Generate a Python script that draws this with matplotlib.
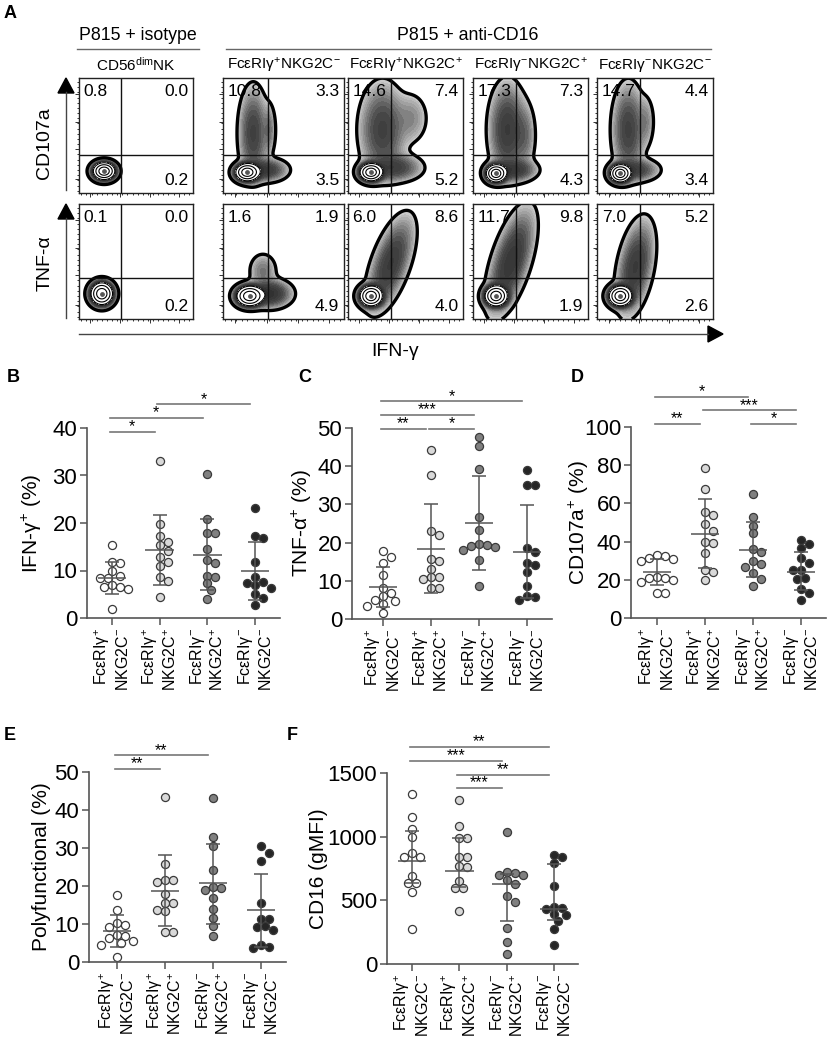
import numpy as np
import matplotlib.pyplot as plt
from matplotlib.colors import LinearSegmentedColormap
from matplotlib.patches import Polygon
from matplotlib import transforms

plt.rcParams['font.family'] = ['Liberation Sans', 'DejaVu Sans']
plt.rcParams['mathtext.fontset'] = 'custom'
plt.rcParams['mathtext.rm'] = 'Liberation Sans'
plt.rcParams['mathtext.it'] = 'Liberation Sans:italic'
plt.rcParams['mathtext.bf'] = 'Liberation Sans:bold'
plt.rcParams['contour.negative_linestyle'] = 'solid'

W, H = 829, 1039

# ---- panel A: flow plots ----
flow_titles = ['CD56$^{\\mathrm{dim}}$NK', 'FcεRIγ$^{+}$NKG2C$^{-}$', 'FcεRIγ$^{+}$NKG2C$^{+}$',
               'FcεRIγ$^{-}$NKG2C$^{+}$', 'FcεRIγ$^{-}$NKG2C$^{-}$']
# quadrant percentages: upper-left, upper-right, lower-right
cd107a_quads = [(0.8, 0.0, 0.2), (10.8, 3.3, 3.5), (14.6, 7.4, 5.2), (17.3, 7.3, 4.3), (14.7, 4.4, 3.4)]
tnf_quads = [(0.1, 0.0, 0.2), (1.6, 1.9, 4.9), (6.0, 8.6, 4.0), (11.7, 9.8, 1.9), (7.0, 5.2, 2.6)]

# population shapes (cx, cy, sx, sy, weight, rho) used to shade the density plots
cd107a_pops = [
    [(0.22, 0.19, 0.045, 0.035, 1, 0)],
    [(0.2, 0.18, 0.045, 0.035, 1, 0), (0.25, 0.52, 0.06, 0.2, 0.05, 0), (0.38, 0.55, 0.03, 0.12, 0.02, 0),
     (0.35, 0.2, 0.09, 0.05, 0.06, 0)],
    [(0.2, 0.18, 0.045, 0.035, 1, 0), (0.3, 0.55, 0.1, 0.2, 0.05, 0), (0.55, 0.65, 0.08, 0.12, 0.015, 0),
     (0.4, 0.22, 0.12, 0.06, 0.05, 0)],
    [(0.2, 0.17, 0.04, 0.035, 1, 0), (0.3, 0.55, 0.08, 0.2, 0.06, 0), (0.35, 0.2, 0.1, 0.05, 0.06, 0),
     (0.45, 0.5, 0.05, 0.15, 0.02, 0)],
    [(0.2, 0.17, 0.04, 0.035, 1, 0), (0.27, 0.55, 0.07, 0.2, 0.05, 0), (0.33, 0.2, 0.1, 0.05, 0.05, 0),
     (0.42, 0.62, 0.04, 0.12, 0.015, 0)],
]
tnf_pops = [
    [(0.2, 0.22, 0.045, 0.045, 1, 0)],
    [(0.22, 0.2, 0.05, 0.04, 1, 0), (0.38, 0.22, 0.09, 0.06, 0.08, 0), (0.33, 0.42, 0.06, 0.08, 0.02, 0)],
    [(0.2, 0.2, 0.045, 0.04, 1, 0), (0.37, 0.48, 0.1, 0.2, 0.06, 0.6)],
    [(0.2, 0.2, 0.045, 0.04, 1, 0), (0.33, 0.5, 0.1, 0.22, 0.07, 0.6)],
    [(0.2, 0.2, 0.045, 0.04, 1, 0), (0.33, 0.45, 0.08, 0.2, 0.06, 0.4)],
]

# ---- panels B-F ----
group_labels = ['FcεRIγ$^{+}$\nNKG2C$^{-}$', 'FcεRIγ$^{+}$\nNKG2C$^{+}$',
                'FcεRIγ$^{-}$\nNKG2C$^{+}$', 'FcεRIγ$^{-}$\nNKG2C$^{-}$']
group_colors = ['white', '#d9d9d9', '#808080', '#262626']

ifng = [[15.4, 11.7, 11.6, 10.0, 8.8, 8.5, 8.4, 7.0, 6.6, 6.5, 6.1, 2.0],
        [33.1, 19.7, 17.2, 16.1, 15.4, 14.2, 12.9, 11.7, 11.0, 8.7, 7.7, 4.4],
        [30.3, 20.8, 17.8, 17.8, 14.5, 12.2, 11.5, 8.7, 8.9, 7.3, 5.9, 4.0],
        [23.1, 17.3, 16.8, 11.7, 8.7, 7.5, 7.4, 7.0, 6.3, 5.1, 4.2, 2.8]]
ifng_mean = [8.4, 14.3, 13.3, 9.8]
ifng_low = [5.0, 7.0, 5.8, 3.7]
ifng_high = [11.8, 21.7, 20.8, 16.0]

tnf = [[17.8, 16.3, 14.7, 11.5, 8.2, 6.7, 6.0, 5.0, 4.8, 3.8, 3.5, 1.5],
       [44.3, 37.8, 23.1, 22.1, 15.1, 15.6, 13.0, 11.0, 10.6, 11.0, 8.0, 8.0],
       [47.6, 45.4, 39.3, 26.7, 23.4, 19.6, 19.3, 19.0, 18.8, 18.0, 15.4, 8.6],
       [39.1, 35.0, 35.0, 18.5, 17.6, 14.7, 12.3, 14.1, 8.6, 6.0, 5.1, 5.7]]
tnf_mean = [8.4, 18.4, 25.1, 17.6]
tnf_low = [3.2, 6.7, 12.8, 5.4]
tnf_high = [13.7, 30.0, 37.4, 29.8]

cd107a = [[33.0, 32.2, 31.5, 31.0, 29.6, 21.5, 20.9, 20.9, 19.7, 19.0, 13.0, 13.0],
          [78.3, 67.5, 55.7, 53.9, 49.0, 45.7, 40.0, 39.1, 33.9, 25.2, 24.3, 19.7],
          [64.7, 53.0, 48.3, 44.3, 36.0, 34.8, 29.6, 28.3, 26.5, 23.5, 20.3, 16.9],
          [40.9, 38.8, 36.5, 31.3, 28.7, 24.9, 24.9, 21.0, 20.3, 15.0, 13.0, 9.6]]
cd107a_mean = [24.3, 44.2, 35.7, 24.3]
cd107a_low = [17.5, 26.4, 21.4, 14.8]
cd107a_high = [31.0, 62.1, 50.1, 34.3]

poly = [[17.7, 13.6, 10.3, 9.8, 9.3, 7.0, 6.8, 6.3, 5.6, 5.0, 4.6, 1.3],
        [43.4, 25.9, 21.5, 21.1, 21.5, 18.0, 15.4, 15.4, 13.8, 13.3, 8.0, 8.0],
        [43.2, 32.9, 30.4, 24.1, 19.5, 19.7, 18.9, 16.8, 14.0, 11.6, 9.6, 6.8],
        [30.4, 28.7, 26.5, 15.4, 11.3, 11.3, 9.2, 9.4, 8.3, 4.6, 3.7, 3.9]]
poly_mean = [8.2, 18.8, 20.8, 13.6]
poly_low = [3.9, 9.4, 10.1, 4.0]
poly_high = [12.5, 28.2, 31.1, 23.2]

cd16 = [[1338, 1156, 1064, 999, 874, 843, 843, 691, 639, 639, 563, 276],
        [1286, 1083, 986, 986, 843, 843, 772, 764, 652, 595, 595, 420],
        [1038, 725, 712, 699, 699, 660, 629, 537, 490, 282, 172, 81],
        [856, 843, 790, 616, 451, 438, 433, 391, 386, 334, 274, 151]]
cd16_mid = [811, 730, 629, 430]
cd16_low = [634, 608, 334, 347]
cd16_high = [1046, 986, 707, 785]

# significance: (group i, group j, stars, stacking level)
ifng_sig = [(0, 1, '*', 0), (0, 2, '*', 1), (1, 3, '*', 2)]
tnf_sig = [(0, 1, '**', 0), (1, 2, '*', 0), (0, 2, '***', 1), (0, 3, '*', 2)]
cd107a_sig = [(0, 1, '**', 0), (2, 3, '*', 0), (1, 3, '***', 1), (0, 2, '*', 2)]
poly_sig = [(0, 1, '**', 0), (0, 2, '**', 1)]
cd16_sig = [(1, 2, '***', 0), (1, 3, '**', 1), (0, 2, '***', 2), (0, 3, '**', 3)]


def px_rect(x0, y0, x1, y1):
    return [x0 / W, 1 - y1 / H, (x1 - x0) / W, (y1 - y0) / H]


fig = plt.figure(figsize=(W / 100, H / 100), dpi=100)
flow_cmap = LinearSegmentedColormap.from_list('flow', ['#dcdcdc', '#9a9a9a', '#4a4a4a', '#262626'])
flow_x = [(79, 193), (223, 344), (348, 463), (473, 588), (597, 713)]
flow_rows = [(78, 193, cd107a_pops, cd107a_quads, 0.33), (204, 319, tnf_pops, tnf_quads, 0.36)]

g = np.linspace(0, 1, 300)
X, Y = np.meshgrid(g, g)
for top, bot, pops_row, quads_row, hy in flow_rows:
    for k, (xl, xr) in enumerate(flow_x):
        ax = fig.add_axes(px_rect(xl, top, xr, bot))
        Z = np.zeros_like(X)
        for cx, cy, sx, sy, w, rho in pops_row[k]:
            dx = (X - cx) / sx
            dy = (Y - cy) / sy
            Z += w * np.exp(-0.5 * (dx * dx - 2 * rho * dx * dy + dy * dy) / (1 - rho * rho))
        L = np.log10(Z / Z.max() + 1e-12)
        ax.contourf(X, Y, L, levels=np.linspace(-2.4, -0.95, 16), cmap=flow_cmap)
        ax.contourf(X, Y, L, levels=[-0.95, 0.01], colors='white')
        ax.contour(X, Y, L, levels=[-0.95, -0.55, -0.22], colors='k', linewidths=0.8)
        ax.scatter([p[0] for p in pops_row[k][:1]], [p[1] for p in pops_row[k][:1]],
                   s=6, color='#555', zorder=3)
        ax.contour(X, Y, L, levels=[-2.4], colors='k', linewidths=2.4)
        ax.axvline(0.37, color='#111', lw=1)
        ax.axhline(hy, color='#111', lw=1)
        ax.set_xlim(0, 1)
        ax.set_ylim(0, 1)
        ul, ur, lr = quads_row[k]
        ax.text(0.04, 0.95, f'{ul:.1f}', transform=ax.transAxes, ha='left', va='top', fontsize=12.5)
        ax.text(0.96, 0.95, f'{ur:.1f}', transform=ax.transAxes, ha='right', va='top', fontsize=12.5)
        ax.text(0.96, 0.04, f'{lr:.1f}', transform=ax.transAxes, ha='right', va='bottom', fontsize=12.5)
        ax.set_xticks([0.1, 0.36, 0.62, 0.88])
        ax.set_yticks([0.12, 0.38, 0.62, 0.86])
        ax.set_xticks(np.arange(0.02, 1, 0.045), minor=True)
        ax.set_yticks(np.arange(0.02, 1, 0.045), minor=True)
        ax.tick_params(which='both', direction='out', labelbottom=False, labelleft=False, width=0.7, color='#333')
        ax.tick_params(which='major', length=3)
        ax.tick_params(which='minor', length=1.3)
        for s in ax.spines.values():
            s.set_linewidth(1)
            s.set_color('#222')


def swarm_offsets(vals, ppu, diam):
    order = np.argsort(vals)[::-1]
    placed = []
    offs = np.zeros(len(vals))
    for i in order:
        y = vals[i] * ppu
        step = 0
        while True:
            cands = [0.0] if step == 0 else [step * diam * 0.5, -step * diam * 0.5]
            ok = None
            for c in cands:
                if all((c - px) ** 2 + (y - py) ** 2 >= (diam * 0.95) ** 2 for px, py in placed):
                    ok = c
                    break
            if ok is not None:
                offs[i] = ok
                placed.append((ok, y))
                break
            step += 1
    return offs


def dot_panel(box, cats, ylim, yticks, ylabel, ylab_x, data, mid, low, high, sig, sig_base):
    x0, y0, x1, y1 = box
    c0, c3 = cats
    sp = (c3 - c0) / 3
    ax = fig.add_axes(px_rect(x0, y0, x1, y1))
    ax.set_xlim(-(c0 - x0) / sp, 3 + (x1 - c3) / sp)
    ax.set_ylim(*ylim)
    ppu = (y1 - y0) / (ylim[1] - ylim[0])
    for k, vals in enumerate(data):
        vals = np.array(vals, dtype=float)
        offs = swarm_offsets(vals, ppu, 8.0) / sp
        ax.scatter(k + offs, vals, s=34, facecolor=group_colors[k], edgecolor='#3a3a3a',
                   linewidth=0.9, zorder=2, clip_on=False)
        ax.hlines(mid[k], k - 0.3, k + 0.3, color='#555', lw=1.1, zorder=4)
        ax.vlines(k, low[k], high[k], color='#555', lw=1.1, zorder=4)
        ax.hlines([low[k], high[k]], k - 0.15, k + 0.15, color='#555', lw=1.1, zorder=4)
    for s in ['top', 'right']:
        ax.spines[s].set_visible(False)
    for s in ['left', 'bottom']:
        ax.spines[s].set_color('#555')
        ax.spines[s].set_linewidth(1.2)
    ax.set_yticks(yticks)
    ax.set_xticks(range(4))
    ax.set_xticklabels(group_labels, rotation=90, fontsize=11.5, multialignment='right')
    ax.tick_params(axis='both', length=5, width=1.1, color='#555', pad=2)
    ax.tick_params(axis='y', labelsize=16)
    ax.set_ylabel(ylabel, fontsize=15)
    # label anchor is the right edge of the rotated text
    ax.yaxis.set_label_coords((ylab_x - x0) / (x1 - x0), 0.5)
    trans = transforms.blended_transform_factory(ax.transData, ax.transAxes)
    for i, j, stars, lev in sig:
        yy = sig_base + lev * 0.072
        xs, xe = i - 0.05, j - 0.1
        ax.plot([xs, xe], [yy, yy], color='#777', lw=1.2, transform=trans, clip_on=False)
        ax.annotate(stars, ((xs + xe) / 2, yy), xycoords=trans, xytext=(0, 0.5), textcoords='offset points',
                    ha='center', va='baseline', fontsize=11.5)
    return ax


dot_panel((87, 428, 280, 618), (112, 255), (0, 40), [0, 10, 20, 30, 40], 'IFN-γ$^{+}$ (%)', 44,
          ifng, ifng_mean, ifng_low, ifng_high, ifng_sig, 0.98)
dot_panel((352, 428, 552, 619), (383, 527), (0, 50), [0, 10, 20, 30, 40, 50], 'TNF-α$^{+}$ (%)', 314,
          tnf, tnf_mean, tnf_low, tnf_high, tnf_sig, 0.995)
dot_panel((631, 427, 826, 618), (657, 801), (0, 100), [0, 20, 40, 60, 80, 100], 'CD107a$^{+}$ (%)', 591,
          cd107a, cd107a_mean, cd107a_low, cd107a_high, cd107a_sig, 1.015)
dot_panel((89, 772, 286, 962), (117, 261), (0, 50), [0, 10, 20, 30, 40, 50], 'Polyfunctional (%)', 51,
          poly, poly_mean, poly_low, poly_high, poly_sig, 1.015)
dot_panel((387, 773, 578, 964), (412, 554), (0, 1500), [0, 500, 1000, 1500], 'CD16 (gMFI)', 328,
          cd16, cd16_mid, cd16_low, cd16_high, cd16_sig, 0.92)

# overlay for panel A annotations and panel letters
ov = fig.add_axes([0, 0, 1, 1])
ov.set_xlim(0, W)
ov.set_ylim(H, 0)
ov.axis('off')

ov.text(138, 36, 'P815 + isotype', ha='center', va='center', fontsize=12.8)
ov.plot([77, 199], [49, 49], color='#666', lw=1)
ov.text(468, 36, 'P815 + anti-CD16', ha='center', va='center', fontsize=12.8)
ov.plot([226, 711], [49, 49], color='#666', lw=1)
for (xl, xr), t in zip(flow_x, flow_titles):
    ov.text((xl + xr) / 2, 65, t, ha='center', va='center', fontsize=11)

ov.text(45, 143, 'CD107a', rotation=90, ha='center', va='center', fontsize=14)
ov.text(45, 263, 'TNF-α', rotation=90, ha='center', va='center', fontsize=14)
ov.plot([66, 66], [190, 92], color='#444', lw=1)
ov.add_patch(Polygon([(58, 93), (74, 93), (66, 78)], closed=True, color='k'))
ov.plot([66, 66], [318, 218], color='#444', lw=1)
ov.add_patch(Polygon([(58, 219), (74, 219), (66, 204)], closed=True, color='k'))
ov.plot([79, 708], [334, 334], color='#444', lw=1)
ov.add_patch(Polygon([(708, 326), (708, 342), (723, 334)], closed=True, color='k'))
ov.text(395, 352, 'IFN-γ', ha='center', va='center', fontsize=14)

for letter, (lx, ly) in zip('ABCDEF', [(10, 13), (13, 378), (305, 378), (577, 378), (10, 735), (292, 735)]):
    ov.text(lx, ly, letter, ha='center', va='center', fontsize=13, fontweight='bold')

fig.savefig('out.png', dpi=100)
